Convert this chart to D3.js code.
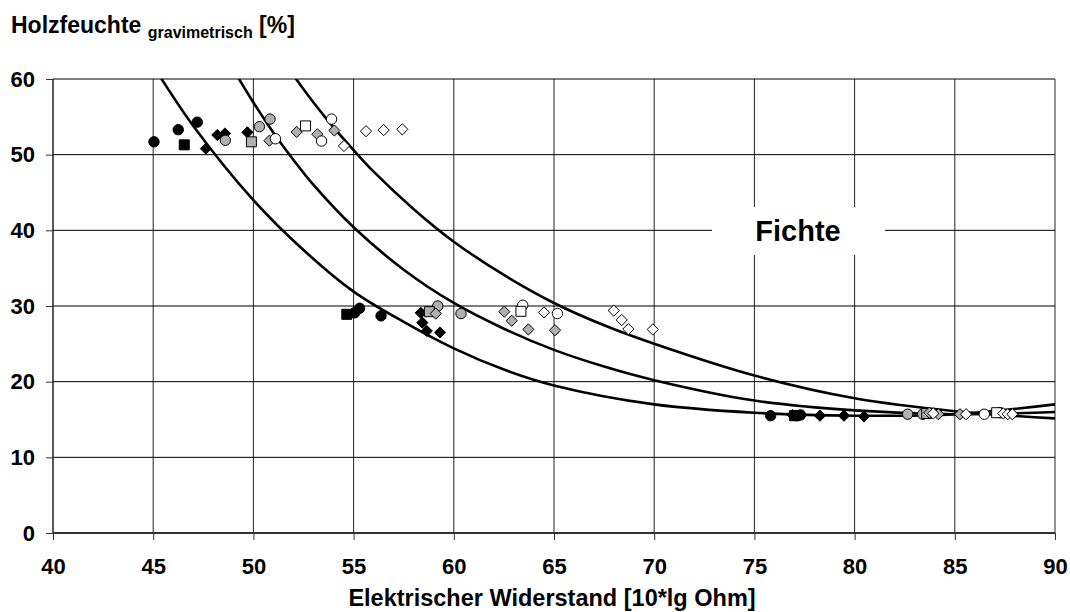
<!DOCTYPE html>
<html><head><meta charset="utf-8">
<script src="https://cdn.jsdelivr.net/npm/d3@7/dist/d3.min.js"></script>
<style>
body{margin:0;background:#fff;}
text{font-family:"Liberation Sans",Arial,sans-serif;font-weight:bold;fill:#000;}
</style></head>
<body><svg id="c" width="1070" height="612"></svg>
<script>
// ---- data ----
const xTicks = [40,45,50,55,60,65,70,75,80,85,90];
const yTicks = [0,10,20,30,40,50,60];

const blackCircle = [[45.04,51.7],[46.25,53.3],[47.2,54.3],[55.05,29.1],[55.3,29.7],[56.37,28.7],[75.81,15.5],[77.1,15.5],[77.3,15.6]];
const blackSquare = [[46.55,51.3],[54.66,28.9],[77.0,15.5]];
const blackDiamond = [[47.63,50.8],[48.2,52.6],[48.58,52.8],[49.7,52.95],[58.35,29.1],[58.43,27.8],[58.65,26.7],[59.31,26.5],[76.9,15.6],[78.27,15.5],[79.47,15.5],[80.47,15.4]];
const grayCircle = [[48.6,51.9],[50.3,53.7],[50.83,54.7],[59.2,30.0],[60.36,29.0],[82.65,15.7],[83.4,15.7],[87.26,15.9]];
const graySquare = [[49.9,51.7],[58.78,29.25],[83.6,15.8]];
const grayDiamond = [[50.8,51.85],[52.16,53.0],[53.19,52.7],[54.04,53.2],[59.1,29.0],[62.52,29.25],[62.89,28.05],[63.72,26.9],[65.05,26.8],[83.73,15.9],[84.18,15.7],[85.26,15.7]];
const whiteCircle = [[51.1,52.1],[53.4,51.8],[53.9,54.7],[63.44,30.1],[65.17,29.0],[86.47,15.7]];
const whiteSquare = [[52.6,53.8],[63.35,29.3],[87.09,15.9]];
const whiteDiamond = [[54.52,51.15],[55.62,53.1],[56.5,53.25],[57.43,53.35],[64.5,29.15],[67.98,29.4],[68.38,28.15],[68.71,26.95],[69.93,26.9],[83.93,15.8],[85.56,15.7],[87.42,15.8],[87.64,15.7],[87.87,15.7]];

// fitted curves, points
const curve1 = [[45.0,61.8],[45.42,60],[47,53.8],[50,44.0],[52.5,37.4],[55,31.9],[57.5,27.9],[60,24.4],[62.5,21.6],[65,19.5],[70,17.0],[75,15.9],[80,15.5],[85,15.7],[90,17.0]];
const curve2 = [[48.8,62.2],[49.17,60.5],[50,56.9],[51,52.9],[52,49.3],[53,46.0],[55,40.4],[57.5,34.8],[60,30.4],[62.5,27.0],[65,24.2],[67.5,22.0],[70,20.2],[75,17.5],[80,16.2],[85,15.7],[90,16.0]];
const curve3 = [[51.6,61.9],[52.13,60],[53,56.9],[54,53.6],[55,50.6],[56,47.75],[58,42.8],[60,38.5],[62.5,34.1],[65,30.4],[67.5,27.45],[70,25.0],[75,20.8],[80,17.8],[85,16.1],[90,15.15]];

const seriesList = [
  {pts:blackCircle, shape:"circle", fill:"#000"},
  {pts:blackSquare, shape:"square", fill:"#000"},
  {pts:blackDiamond, shape:"diamond", fill:"#000"},
  {pts:grayCircle, shape:"circle", fill:"#b0b0b0"},
  {pts:graySquare, shape:"square", fill:"#b0b0b0"},
  {pts:grayDiamond, shape:"diamond", fill:"#b0b0b0"},
  {pts:whiteCircle, shape:"circle", fill:"#fff"},
  {pts:whiteSquare, shape:"square", fill:"#fff"},
  {pts:whiteDiamond, shape:"diamond", fill:"#fff"}
];

// ---- layout ----
const L=53, R=1055, T=79, B=533;
const svg = d3.select("#c");
const x = d3.scaleLinear().domain([40,90]).range([L,R]);
const y = d3.scaleLinear().domain([0,60]).range([B,T]);

svg.append("defs").append("clipPath").attr("id","clip")
  .append("rect").attr("x",L).attr("y",T).attr("width",R-L).attr("height",B-T);

// grid
const grid = svg.append("g");
grid.selectAll("line.v").data(xTicks).join("line")
  .attr("x1",d=>x(d)).attr("x2",d=>x(d)).attr("y1",T).attr("y2",B)
  .attr("stroke","#222").attr("stroke-width",1);
grid.selectAll("line.h").data(yTicks.filter(d=>d>0)).join("line")
  .attr("class","h")
  .attr("x1",L).attr("x2",R).attr("y1",d=>y(d)).attr("y2",d=>y(d))
  .attr("stroke","#000").attr("stroke-width",1);

// axes
const xAxis = d3.axisBottom(x).tickValues(xTicks).tickSize(7).tickPadding(14).tickFormat(d3.format("d"));
const yAxis = d3.axisLeft(y).tickValues(yTicks).tickSize(7).tickPadding(11).tickFormat(d3.format("d"));
const gx = svg.append("g").attr("transform",`translate(0,${B})`).call(xAxis);
const gy = svg.append("g").attr("transform",`translate(${L},0)`).call(yAxis);
[gx,gy].forEach(g=>{
  g.select(".domain").remove();
  g.selectAll(".tick line").attr("stroke","#333").attr("stroke-width",1);
  g.selectAll(".tick text").style("font-size","22px").style("font-family",'"Liberation Sans",Arial,sans-serif').style("font-weight","bold").attr("fill","#000");
});
gx.selectAll(".tick text").attr("dy","0.9em");
svg.append("line").attr("x1",L).attr("x2",R).attr("y1",B).attr("y2",B).attr("stroke","#333").attr("stroke-width",2);
svg.append("line").attr("x1",L).attr("x2",L).attr("y1",T).attr("y2",B).attr("stroke","#222").attr("stroke-width",1);

// Fichte label box
svg.append("rect").attr("x",712).attr("y",207).attr("width",173).attr("height",48).attr("fill","#fff");
svg.append("text").attr("x",798).attr("y",241).attr("text-anchor","middle").style("font-size","29px").text("Fichte");

// curves
const line = d3.line().x(d=>x(d[0])).y(d=>y(d[1])).curve(d3.curveCatmullRom.alpha(0.5));
svg.append("g").attr("clip-path","url(#clip)").selectAll("path").data([curve1,curve2,curve3]).join("path")
  .attr("d",line).attr("fill","none").attr("stroke","#000").attr("stroke-width",2.6);

// markers
const mg = svg.append("g");
seriesList.forEach(s=>{
  const g = mg.append("g");
  const sel = g.selectAll("path").data(s.pts).join("path")
    .attr("transform",d=>`translate(${x(d[0])},${y(d[1])})`)
    .attr("fill",s.fill).attr("stroke","#000").attr("stroke-width",1);
  if(s.shape==="circle") sel.attr("d",d3.symbol(d3.symbolCircle,85)());
  else if(s.shape==="square") sel.attr("d","M-5,-5H5V5H-5Z");
  else sel.attr("d","M0,-5.6L5.6,0L0,5.6L-5.6,0Z");
});

// titles
const yt = svg.append("text").attr("x",11).attr("y",33).style("font-size","23px");
yt.append("tspan").text("Holzfeuchte ");
yt.append("tspan").attr("dy",4.5).style("font-size","16px").text("gravimetrisch");
yt.append("tspan").attr("dy",-4.5).text(" [%]");

svg.append("text").attr("x",552).attr("y",606).attr("text-anchor","middle").style("font-size","23.5px")
  .text("Elektrischer Widerstand [10*lg Ohm]");
</script></body></html>
